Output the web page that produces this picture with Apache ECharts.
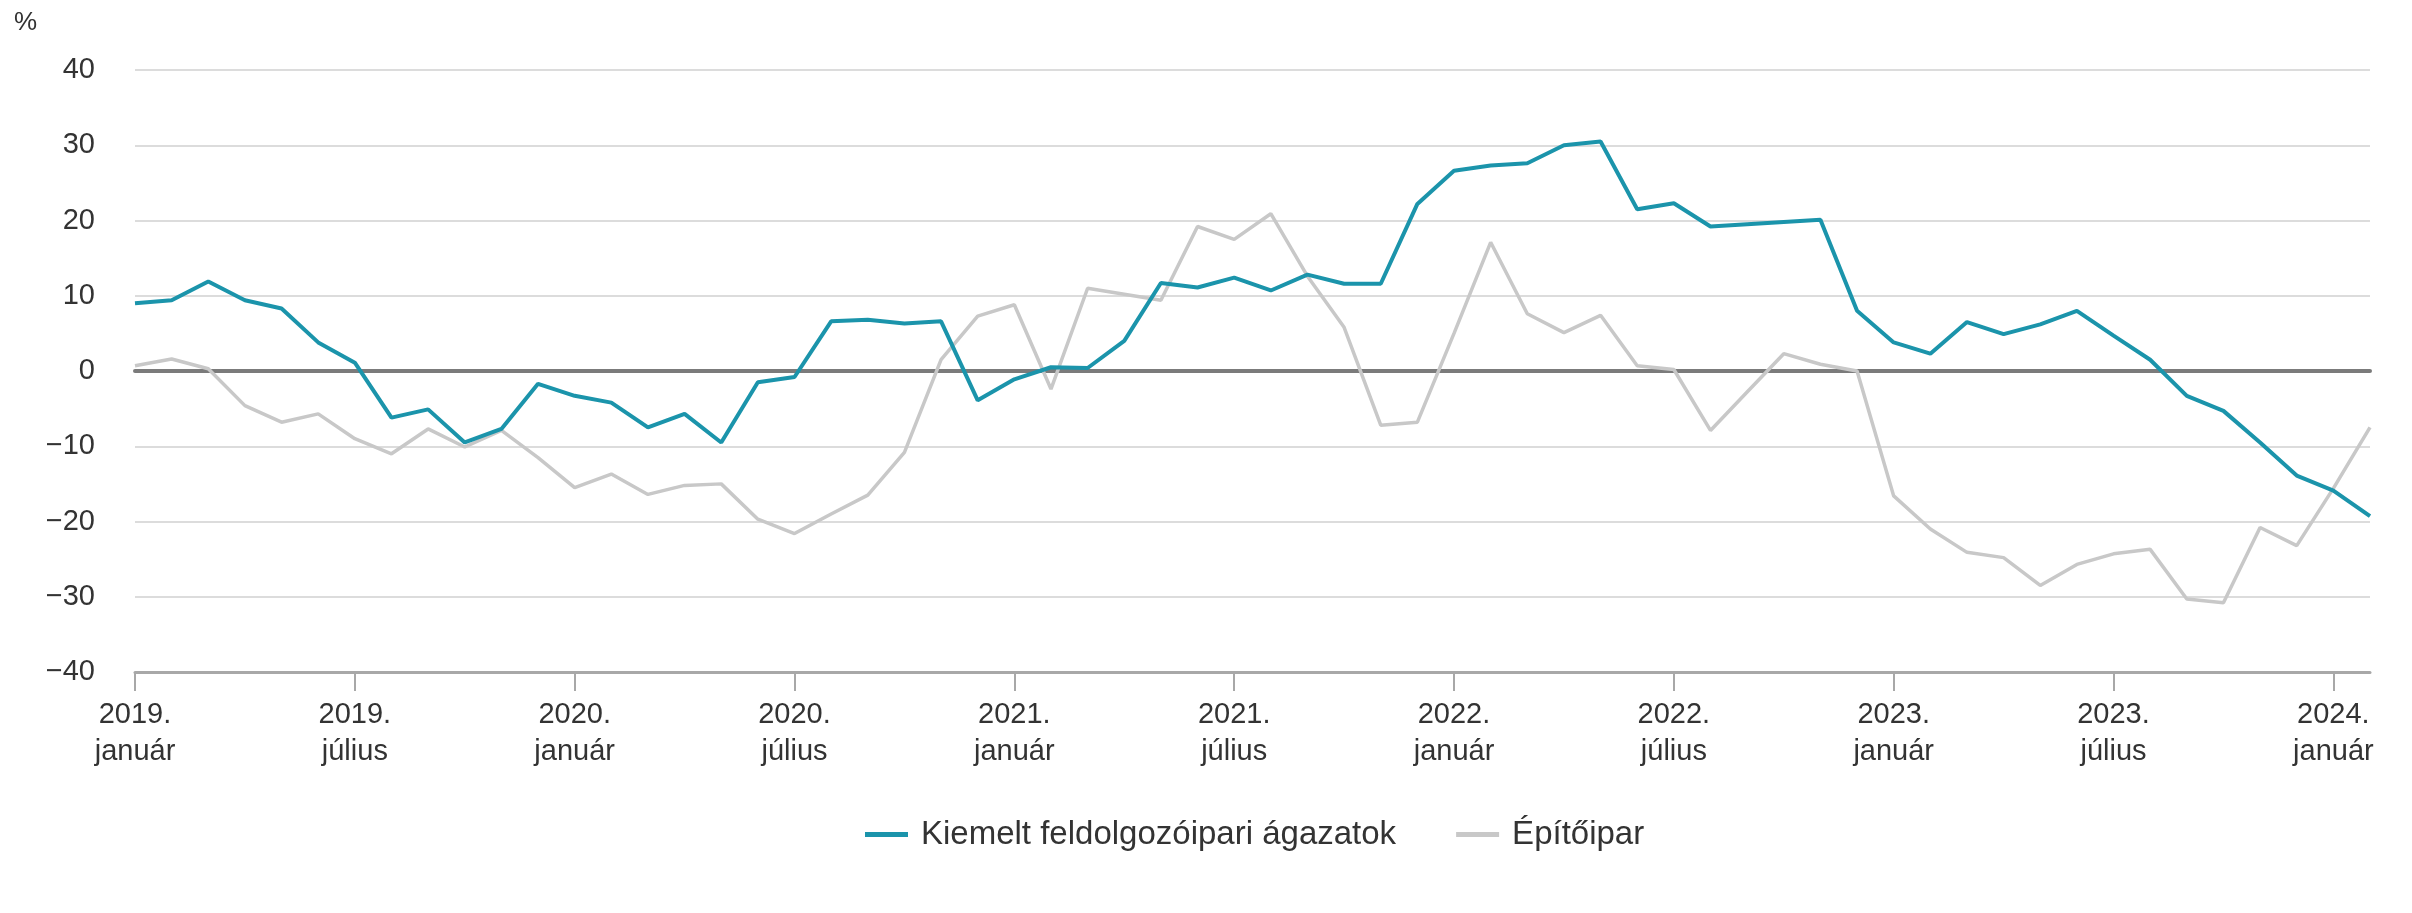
<!DOCTYPE html>
<html>
<head>
<meta charset="utf-8">
<script src="https://cdn.jsdelivr.net/npm/echarts@6/dist/echarts.min.js"></script>
<style>
  html, body { margin: 0; padding: 0; background: #fff; }
  #chart { width: 2412px; height: 913px; }
</style>
</head>
<body>
<div id="chart"></div>
<script>
// havi adatok, 2019. január - 2024. február
const years = [2019, 2020, 2021, 2022, 2023, 2024]
const monthNames = ['január', 'február', 'március', 'április', 'május', 'június',
  'július', 'augusztus', 'szeptember', 'október', 'november', 'december']
const monthCount = 62
const yTicks = [-40, -30, -20, -10, 0, 10, 20, 30, 40]

const seriesNames = ['Kiemelt feldolgozóipari ágazatok', 'Építőipar']

const feldolgozoipar = [
  9.0, 9.4, 11.9, 9.4, 8.3, 3.8, 1.1, -6.2, -5.1, -9.5, -7.7, -1.7,
  -3.3, -4.2, -7.5, -5.7, -9.5, -1.5, -0.8, 6.6, 6.8, 6.3, 6.6, -3.9,
  -1.1, 0.5, 0.4, 4.0, 11.7, 11.1, 12.4, 10.7, 12.8, 11.6, 11.6, 22.2,
  26.6, 27.3, 27.6, 30.0, 30.5, 21.5, 22.3, 19.2, 19.5, 19.8, 20.1, 8.0,
  3.8, 2.3, 6.5, 4.9, 6.2, 8.0, 4.7, 1.5, -3.3, -5.3, -9.5, -13.9,
  -15.9, -19.3
]

const epitoipar = [
  0.7, 1.6, 0.3, -4.6, -6.8, -5.7, -9.0, -11.0, -7.7, -10.1, -7.9, -11.5,
  -15.5, -13.7, -16.4, -15.2, -15.0, -19.7, -21.6, -19.0, -16.5, -10.8, 1.5, 7.3,
  8.8, -2.4, 11.0, 10.2, 9.4, 19.2, 17.5, 20.9, 12.6, 5.8, -7.2, -6.8,
  5.0, 17.1, 7.6, 5.1, 7.4, 0.7, 0.2, -7.9, -2.8, 2.3, 0.9, 0.0,
  -16.6, -21.0, -24.1, -24.8, -28.5, -25.7, -24.3, -23.7, -30.3, -30.8, -20.8, -23.2,
  -15.6, -7.5
]

const categories = []
for (let i = 0; i < monthCount; i++) {
  const y = years[Math.floor(i / 12)]
  categories.push(y + '.\n' + monthNames[i % 12])
}

const font = "'Liberation Sans', Arial, sans-serif"
const textColor = '#333'

const myChart = echarts.init(document.getElementById('chart'))
const option = {
  animation: false,
  textStyle: { fontFamily: font },
  graphic: [
    {
      type: 'text',
      left: 14,
      top: 10,
      style: { text: '%', fontSize: 26, fill: textColor, fontFamily: font }
    }
  ],
  legend: {
    left: 860,
    top: 813,
    icon: 'rect',
    itemWidth: 43,
    itemHeight: 5,
    itemGap: 60,
    textStyle: {
      fontSize: 33,
      color: textColor,
      padding: [0, 0, 0, 8]
    },
    data: [seriesNames[0], seriesNames[1]]
  },
  grid: {
    left: 135,
    right: 42,
    top: 70,
    bottom: 241
  },
  xAxis: [
    {
      type: 'category',
      data: categories,
      boundaryGap: false,
      position: 'bottom',
      axisLine: {
        onZero: false,
        lineStyle: { color: '#a8a8a8', width: 3 }
      },
      axisTick: {
        interval: 5,
        length: 19,
        lineStyle: { color: '#a8a8a8', width: 2 }
      },
      axisLabel: {
        interval: 5,
        fontSize: 29,
        lineHeight: 37,
        margin: 24,
        color: textColor
      },
      splitLine: { show: false }
    },
    {
      // nulla vonal
      type: 'category',
      data: categories,
      boundaryGap: false,
      position: 'bottom',
      axisLine: {
        onZero: true,
        lineStyle: { color: '#7b7b7b', width: 4 }
      },
      axisTick: { show: false },
      axisLabel: { show: false },
      splitLine: { show: false }
    }
  ],
  yAxis: {
    type: 'value',
    min: yTicks[0],
    max: yTicks[yTicks.length - 1],
    interval: 10,
    axisLine: { show: false },
    axisTick: { show: false },
    axisLabel: {
      fontSize: 29,
      margin: 40,
      color: textColor,
      formatter: v => String(v).replace('-', '−')
    },
    splitLine: {
      lineStyle: { color: '#dcdcdc', width: 2 }
    }
  },
  series: [
    {
      name: seriesNames[1],
      type: 'line',
      data: epitoipar,
      xAxisIndex: 0,
      symbol: 'none',
      color: '#c8c8c8',
      lineStyle: { color: '#c8c8c8', width: 3.5 },
      z: 2
    },
    {
      name: seriesNames[0],
      type: 'line',
      data: feldolgozoipar,
      xAxisIndex: 0,
      symbol: 'none',
      color: '#1b94ab',
      lineStyle: { color: '#1b94ab', width: 4 },
      z: 3
    }
  ]
}
myChart.setOption(option)
</script>
</body>
</html>
